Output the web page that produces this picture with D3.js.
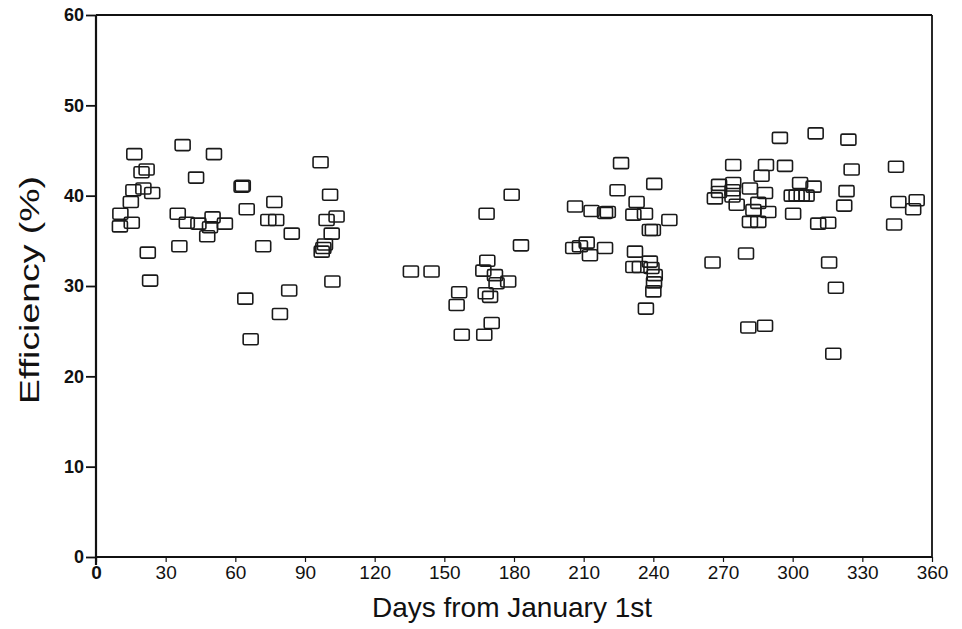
<!DOCTYPE html>
<html>
<head>
<meta charset="utf-8">
<script src="https://cdn.jsdelivr.net/npm/d3@7"></script>
<style>
  html, body { margin: 0; padding: 0; background: #fff; }
  svg { display: block; font-family: "Liberation Sans", Arial, sans-serif; }
</style>
</head>
<body>
<svg id="chart" width="962" height="629"></svg>
<script>
// Day of year for each measurement
const days = [
  10.3, 10.5, 15.4, 15.0, 16.5, 19.6, 21.8, 16.1, 20.4, 24.2, 22.3, 23.3,
  35.2, 35.9, 37.3, 39.1, 43.1, 44.1, 47.9, 49.1, 50.2, 50.8, 55.5, 62.7,
  63.2, 64.9, 64.3, 66.6, 72.0, 74.2, 76.8, 77.6, 79.2, 83.2, 84.3, 96.7,
  97.2, 97.9, 98.6, 99.3, 100.8, 101.5, 101.8, 103.6,
  135.6, 144.5, 155.3, 156.4, 157.5, 167.2, 168.5, 166.8, 168.2, 171.8,
  172.5, 177.5, 167.8, 169.7, 170.4, 179.0, 183.0,
  205.5, 208.4, 206.3, 211.3, 212.7, 213.4, 219.2, 219.2, 220.4, 224.6,
  226.1, 231.4, 232.8, 232.1, 231.4, 234.2, 236.4, 238.5, 239.8, 238.5,
  239.2, 240.6, 240.3, 240.0, 236.8, 240.4, 246.9,
  265.5, 266.5, 268.3, 268.3, 274.4, 274.4, 274.1, 274.1, 275.9, 279.9,
  280.9, 281.6, 281.6, 283.1, 285.2, 285.2, 286.6, 288.1, 288.5, 288.1,
  289.5, 294.5, 296.7, 299.6, 301.7, 303.9, 306.0, 300.2, 303.2, 309.0,
  309.9, 311.0, 315.3, 315.7, 317.5, 318.6, 322.2, 323.2, 324.0, 325.4,
  343.7, 344.5, 345.5, 351.9, 353.4
];

// Efficiency (%) for each measurement, same order as days
const efficiency = [
  36.6, 38.0, 37.0, 39.3, 44.6, 42.6, 42.9, 40.6, 40.8, 40.3, 33.7, 30.6,
  38.0, 34.4, 45.6, 37.0, 42.0, 36.9, 35.5, 36.5, 37.6, 44.6, 36.9, 41.0,
  41.1, 38.5, 28.6, 24.1, 34.4, 37.3, 39.3, 37.3, 26.9, 29.5, 35.8, 43.7,
  33.8, 34.2, 34.6, 37.3, 40.1, 35.8, 30.5, 37.7,
  31.6, 31.6, 27.9, 29.3, 24.6, 24.6, 32.8, 31.7, 38.0, 31.2,
  30.3, 30.5, 29.2, 28.8, 25.9, 40.1, 34.5,
  34.2, 34.4, 38.8, 34.8, 33.4, 38.3, 34.2, 38.1, 38.2, 40.6,
  43.6, 37.9, 39.3, 33.8, 32.1, 32.1, 38.0, 36.2, 36.2, 32.7,
  32.0, 31.2, 30.4, 29.4, 27.5, 41.3, 37.3,
  32.6, 39.7, 41.2, 40.4, 43.4, 41.4, 40.6, 39.9, 39.0, 33.6,
  25.4, 40.8, 37.1, 38.4, 37.1, 39.2, 42.2, 40.3, 43.4, 25.6,
  38.2, 46.4, 43.3, 40.0, 40.0, 40.0, 40.0, 38.0, 41.4, 41.0,
  46.9, 36.9, 37.0, 32.6, 22.5, 29.8, 38.9, 40.5, 46.2, 42.9,
  36.8, 43.2, 39.3, 38.5, 39.5
];

const xTicks = [0, 30, 60, 90, 120, 150, 180, 210, 240, 270, 300, 330, 360];
const yTicks = [0, 10, 20, 30, 40, 50, 60];

const svg = d3.select("#chart");
const W = 962, H = 629;
const margin = { left: 96, right: 30, top: 15, bottom: 72 };
const plotW = W - margin.left - margin.right;
const plotH = H - margin.top - margin.bottom;

const x = d3.scaleLinear().domain([0, 360]).range([margin.left, margin.left + plotW]);
const y = d3.scaleLinear().domain([0, 60]).range([margin.top + plotH, margin.top]);

// Frame: top and right edges
svg.append("line")
  .attr("x1", x(0)).attr("x2", x(360)).attr("y1", y(60)).attr("y2", y(60))
  .attr("stroke", "#111").attr("stroke-width", 1.8);
svg.append("line")
  .attr("x1", x(360)).attr("x2", x(360)).attr("y1", y(60)).attr("y2", y(0))
  .attr("stroke", "#111").attr("stroke-width", 1.8);

// Bottom axis
const xAxis = svg.append("g")
  .attr("transform", `translate(0,${y(0)})`)
  .call(d3.axisBottom(x).tickValues(xTicks).tickSize(5).tickPadding(4).tickFormat(d3.format("d")));
xAxis.select(".domain").attr("stroke", "#111").attr("stroke-width", 2.2)
  .attr("d", `M${x(0)},0H${x(360)}`);
xAxis.selectAll(".tick line").attr("stroke", "#111").attr("stroke-width", 1.2);
xAxis.selectAll(".tick text")
  .attr("fill", "#111")
  .style("font-size", "19px")
  .style("font-family", "'Liberation Sans', Arial, sans-serif");
xAxis.selectAll(".tick text").filter(d => d === 0).style("font-weight", "bold");

// Left axis
const yAxis = svg.append("g")
  .attr("transform", `translate(${x(0)},0)`)
  .call(d3.axisLeft(y).tickValues(yTicks).tickSize(10).tickPadding(2).tickFormat(d3.format("d")));
yAxis.select(".domain").attr("stroke", "#111").attr("stroke-width", 2.2)
  .attr("d", `M0,${y(60)}V${y(0) + 8}`);
yAxis.selectAll(".tick line").attr("stroke", "#111").attr("stroke-width", 1.8);
yAxis.selectAll(".tick text")
  .attr("fill", "#111")
  .style("font-size", "18px")
  .style("font-weight", "bold")
  .style("font-family", "'Liberation Sans', Arial, sans-serif");

// Axis titles
svg.append("text")
  .attr("x", (x(0) + x(360)) / 2 - 2)
  .attr("y", 617)
  .attr("text-anchor", "middle")
  .attr("fill", "#111")
  .style("font-size", "28px")
  .text("Days from January 1st");

svg.append("text")
  .attr("transform", `translate(39,${(y(0) + y(60)) / 2 + 4}) rotate(-90)`)
  .attr("text-anchor", "middle")
  .attr("fill", "#111")
  .attr("textLength", 228)
  .attr("lengthAdjust", "spacingAndGlyphs")
  .style("font-size", "28px")
  .text("Efficiency (%)");

// Open square markers
const pts = days.map((d, i) => ({ day: d, eff: efficiency[i] }));
const mw = 15, mh = 11;
svg.append("g")
  .selectAll("rect")
  .data(pts)
  .join("rect")
  .attr("x", d => x(d.day) - mw / 2)
  .attr("y", d => y(d.eff) - mh / 2)
  .attr("width", mw)
  .attr("height", mh)
  .attr("rx", 1.5)
  .attr("fill", "none")
  .attr("stroke", "#1a1a1a")
  .attr("stroke-width", 1.6);
</script>
</body>
</html>
